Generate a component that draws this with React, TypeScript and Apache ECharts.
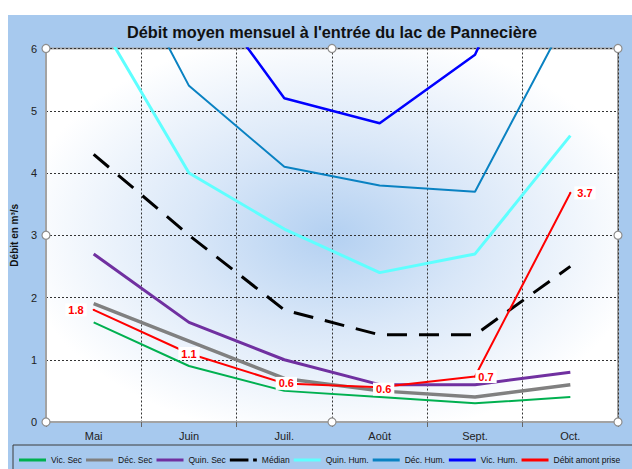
import React, { useEffect, useRef } from 'react';
import * as echarts from 'echarts';

const months = ['Mai', 'Juin', 'Juil.', 'Août', 'Sept.', 'Oct.'];
const vicSec = [1.6, 0.9, 0.5, 0.4, 0.3, 0.4];
const decSec = [1.9, 1.3, 0.7, 0.5, 0.4, 0.6];
const quinSec = [2.7, 1.6, 1.0, 0.6, 0.6, 0.8];
const median = [4.3, 3.0, 1.8, 1.4, 1.4, 2.5];
const quinHum = [6.6, 4.0, 3.1, 2.4, 2.7, 4.6];
const decHum = [8.3, 5.4, 4.1, 3.8, 3.7, 6.6];
const vicHum = [9.0, 7.3, 5.2, 4.8, 5.9, 9.2];
const debitAmont = [1.8, 1.1, 0.62, 0.56, 0.73, 3.68];
const yMin = 0;
const yMax = 6;
const yInterval = 1;

const titleText = "Débit moyen mensuel à l'entrée du lac de Pannecière";
const yName = 'Débit en m³/s';
const seriesNames = ['Vic. Sec', 'Déc. Sec', 'Quin. Sec', 'Médian', 'Quin. Hum.', 'Déc. Hum.', 'Vic. Hum.', 'Débit amont prise'];

const FONT = '"Liberation Sans", Arial, sans-serif';

export default function App() {
  const ref = useRef<HTMLDivElement>(null);
  useEffect(() => {
    if (!ref.current) return;
    const chart = echarts.init(ref.current, undefined, { renderer: 'svg' });
    const W = 624, H = 454;
    const gL = 38, gT = 33.5, gR = 14, gB = 47;
    const x0 = gL, x1 = W - gR, xm = (x0 + x1) / 2;
    const y0 = gT, y1 = H - gB, ym = (y0 + y1) / 2;
    const handles: any[] = [];
    [[x0, y0], [xm, y0], [x1, y0], [x0, ym], [x1, ym], [x0, y1], [xm, y1], [x1, y1]].forEach(([cx, cy]) => {
      handles.push({
        type: 'circle', shape: { cx, cy, r: 4 }, z: 100,
        style: { fill: '#ffffff', stroke: '#8e8e8e', lineWidth: 1.2 },
      });
    });

    const labelPos: any[] = [
      { position: 'left', distance: 6 },
      { position: 'inside' },
      { position: 'inside', offset: [2, 0] },
      { position: 'inside', offset: [4, 2] },
      { position: 'inside', offset: [11, 0] },
      { position: 'right', distance: 3 },
    ];

    const mk = (name: string, data: any[], color: string, width: number, extra: any = {}) => ({
      name, type: 'line', data,
      symbol: extra.symbol || 'none', symbolSize: extra.symbolSize || 0, showSymbol: !!extra.symbol,
      clip: true,
      lineStyle: { color, width, ...(extra.lineStyle || {}) },
      itemStyle: { color },
      z: extra.z || 2,
      label: extra.label,
    });

    const barIcon = 'path://M0,0H29V3H0Z';
    const medIcon = 'path://M0,0H20V3H0Z M25,0H29V3H25Z';

    const option: any = {
      animation: false,
      backgroundColor: '#A7C9EE',
      textStyle: { fontFamily: FONT },
      title: {
        text: titleText, left: 119, top: 9, padding: 0,
        textStyle: { fontSize: 16.3, fontWeight: 'bold', color: '#111', fontFamily: FONT },
      },
      grid: {
        left: gL, top: gT, right: gR, bottom: gB, show: true,
        outerBoundsMode: 'none', containLabel: false,
        borderColor: '#A3A3A3', borderWidth: 2,
        backgroundColor: new echarts.graphic.RadialGradient(0.5, 0.5, 0.55, [
          { offset: 0, color: '#b3d0f1' },
          { offset: 0.45, color: '#d9e7f8' },
          { offset: 1, color: '#ffffff' },
        ]),
      },
      legend: {
        left: 11, top: 440.5, itemWidth: 27, itemHeight: 3, itemGap: 4, padding: 0,
        width: 613, symbolKeepAspect: false,
        textStyle: { fontSize: 8.5, color: '#111', fontFamily: FONT },
        data: seriesNames.map((n, i) => ({ name: n, icon: i === 3 ? medIcon : barIcon })),
      },
      xAxis: {
        type: 'category', data: months, boundaryGap: true,
        axisLine: { lineStyle: { color: '#A3A3A3', width: 2 } },
        axisTick: { show: true, length: 5, lineStyle: { color: '#666' } },
        axisLabel: { color: '#222', fontSize: 11, margin: 8, fontFamily: FONT },
        splitLine: { show: true, lineStyle: { color: '#333', width: 1, type: [2, 2] } },
      },
      yAxis: {
        type: 'value', min: yMin, max: yMax, interval: yInterval,
        name: yName, nameLocation: 'middle', nameGap: 25, nameRotate: 90,
        nameTextStyle: { fontSize: 10, fontWeight: 'bold', color: '#111', fontFamily: FONT },
        axisLine: { show: true, lineStyle: { color: '#A3A3A3', width: 2 } },
        axisTick: { show: false },
        axisLabel: { color: '#222', fontSize: 11, margin: 9, fontFamily: FONT },
        splitLine: { show: true, lineStyle: { color: '#333', width: 1, type: [2, 2] } },
      },
      series: [
        mk(seriesNames[0], vicSec, '#00B050', 2),
        mk(seriesNames[1], decSec, '#808080', 3.5),
        mk(seriesNames[2], quinSec, '#7030A0', 3),
        mk(seriesNames[3], median, '#000000', 3, { lineStyle: { type: [20, 12] } }),
        mk(seriesNames[4], quinHum, '#5FFFFF', 3),
        mk(seriesNames[5], decHum, '#0A82C2', 2),
        mk(seriesNames[6], vicHum, '#0000FF', 2.5),
        mk(seriesNames[7], debitAmont.map((v, i) => ({ value: v, label: labelPos[i] })), '#FF0000', 2, {
          z: 5, symbol: 'circle', symbolSize: 2,
          label: {
            show: true, color: '#FF0000', fontWeight: 'bold', fontSize: 11, fontFamily: FONT,
            backgroundColor: '#ffffff', padding: [1, 3],
            formatter: (p: any) => Number(p.value).toFixed(1),
          },
        }),
      ],
      graphic: [
        {
          type: 'rect', shape: { x: 5, y: 430, width: 640, height: 40 }, z: -1, silent: true,
          style: { fill: 'none', stroke: '#3c3c3c', lineWidth: 1 },
        },
        ...handles,
      ],
    };
    chart.setOption(option);
    return () => chart.dispose();
  }, []);
  return (
    <div ref={ref} style={{ position: 'absolute', left: 8, top: 15, width: 624, height: 454 }} />
  );
}
